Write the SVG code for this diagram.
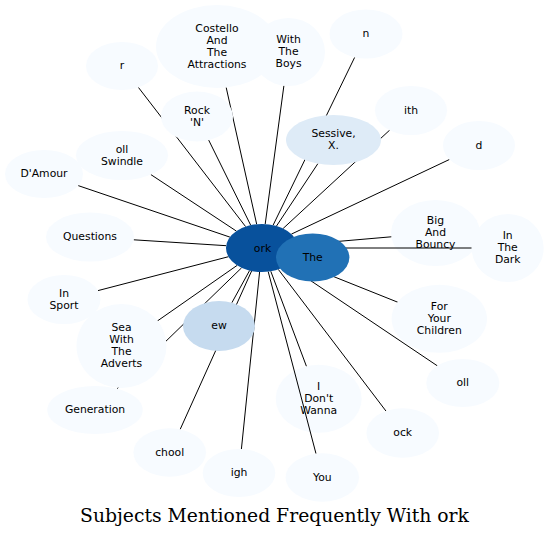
<svg xmlns="http://www.w3.org/2000/svg" width="549" height="537" viewBox="0 0 549 537">
<style>
.bg{fill:#ffffff}
.n ellipse{fill:#f7fbff;stroke:none}
.n text,.t{font-family:"DejaVu Sans","Liberation Sans",sans-serif;font-size:10.8px;text-anchor:middle;fill:#000}
#edges line{stroke:#000;stroke-width:1}
.title{font-family:"DejaVu Serif","Liberation Serif",serif;font-size:18.8px;text-anchor:middle;fill:#000}
</style>
<rect class="bg" x="0" y="0" width="549" height="537"/>

<g id="node-big-and-bouncy" class="n"><ellipse cx="435.5" cy="233" rx="44.5" ry="33"/><text x="435.5" y="224">Big</text><text x="435.5" y="236">And</text><text x="435.5" y="248">Bouncy</text></g>
<g id="node-i-dont-wanna" class="n"><ellipse cx="318.7" cy="398.8" rx="43" ry="34"/><text x="318.7" y="389.8">I</text><text x="318.7" y="401.8">Don't</text><text x="318.7" y="413.8">Wanna</text></g>

<g id="edges">
<line x1="245.6" y1="226.6" x2="138.4" y2="87.4"/>
<line x1="256.7" y1="224.3" x2="226.2" y2="87.5"/>
<line x1="265.2" y1="224.1" x2="283.9" y2="85.7"/>
<line x1="273.1" y1="225.2" x2="354.7" y2="57.3"/>
<line x1="283.1" y1="228.5" x2="389.6" y2="130.2"/>
<line x1="291.4" y1="234.1" x2="449.4" y2="159.5"/>
<line x1="276.5" y1="226.0" x2="317.9" y2="163.6"/>
<line x1="250.7" y1="225.2" x2="208.7" y2="140.1"/>
<line x1="236.4" y1="231.1" x2="150.9" y2="174.6"/>
<line x1="229.9" y1="237.1" x2="78.2" y2="185.6"/>
<line x1="226.2" y1="245.7" x2="133.7" y2="239.8"/>
<line x1="228.5" y1="256.7" x2="98.0" y2="290.6"/>
<line x1="237.1" y1="265.4" x2="157.5" y2="320.9"/>
<line x1="241.6" y1="267.8" x2="117.0" y2="388.7"/>
<line x1="251.6" y1="271.0" x2="180.2" y2="429.3"/>
<line x1="249.6" y1="270.5" x2="231.9" y2="302.7"/>
<line x1="259.6" y1="271.9" x2="241.4" y2="449.1"/>
<line x1="268.2" y1="271.6" x2="316.0" y2="453.7"/>
<line x1="270.8" y1="271.3" x2="306.4" y2="366.2"/>
<line x1="278.3" y1="269.4" x2="386.0" y2="411.1"/>
<line x1="287.4" y1="265.0" x2="437.3" y2="365.8"/>
<line x1="292.9" y1="260.3" x2="397.7" y2="302.2"/>
<line x1="298.0" y1="248.0" x2="471.7" y2="248.0"/>
<line x1="297.7" y1="244.9" x2="391.3" y2="236.8"/>
</g>

<g id="node-r" class="n"><ellipse cx="122" cy="66" rx="36" ry="24"/><text x="122" y="69">r</text></g>
<g id="node-costello" class="n"><ellipse cx="217" cy="46.5" rx="61" ry="41.5"/><text x="217" y="31.5">Costello</text><text x="217" y="43.5">And</text><text x="217" y="55.5">The</text><text x="217" y="67.5">Attractions</text></g>
<g id="node-with-the-boys" class="n"><ellipse cx="288.5" cy="52" rx="36.5" ry="34"/><text x="288.5" y="43">With</text><text x="288.5" y="55">The</text><text x="288.5" y="67">Boys</text></g>
<g id="node-n" class="n"><ellipse cx="366" cy="34" rx="36.5" ry="24.5"/><text x="366" y="37">n</text></g>
<g id="node-ith" class="n"><ellipse cx="411" cy="110.5" rx="36" ry="24.5"/><text x="411" y="113.5">ith</text></g>
<g id="node-d" class="n"><ellipse cx="479" cy="145.5" rx="36" ry="24.5"/><text x="479" y="148.5">d</text></g>
<g id="node-sessive" class="n"><ellipse cx="333.5" cy="140" rx="47.5" ry="25" style="fill:#deebf7"/><text x="333.5" y="137">Sessive,</text><text x="333.5" y="149">X.</text></g>
<g id="node-rock-n" class="n"><ellipse cx="197" cy="116.5" rx="36" ry="25"/><text x="197" y="113.5">Rock</text><text x="197" y="125.5">'N'</text></g>
<g id="node-oll-swindle" class="n"><ellipse cx="122" cy="155.5" rx="46" ry="24.5"/><text x="122" y="152.5">oll</text><text x="122" y="164.5">Swindle</text></g>
<g id="node-damour" class="n"><ellipse cx="44" cy="174" rx="39" ry="24"/><text x="44" y="177">D'Amour</text></g>
<g id="node-questions" class="n"><ellipse cx="90" cy="237" rx="44" ry="24.5"/><text x="90" y="240">Questions</text></g>
<g id="node-in-sport" class="n"><ellipse cx="64" cy="299.5" rx="36.5" ry="24.5"/><text x="64" y="296.5">In</text><text x="64" y="308.5">Sport</text></g>
<g id="node-sea" class="n"><ellipse cx="121.5" cy="346" rx="45" ry="42"/><text x="121.5" y="331">Sea</text><text x="121.5" y="343">With</text><text x="121.5" y="355">The</text><text x="121.5" y="367">Adverts</text></g>
<g id="node-generation" class="n"><ellipse cx="95" cy="410" rx="47.7" ry="24"/><text x="95" y="413">Generation</text></g>
<g id="node-chool" class="n"><ellipse cx="169.7" cy="452.5" rx="36.3" ry="24.2"/><text x="169.7" y="455.5">chool</text></g>
<g id="node-ew" class="n"><ellipse cx="219" cy="326" rx="36" ry="25" style="fill:#c6dbef"/><text x="219" y="329">ew</text></g>
<g id="node-igh" class="n"><ellipse cx="239" cy="473" rx="36.3" ry="24"/><text x="239" y="476">igh</text></g>
<g id="node-you" class="n"><ellipse cx="322.3" cy="477.5" rx="36.7" ry="24.2"/><text x="322.3" y="480.5">You</text></g>
<g id="node-ock" class="n"><ellipse cx="402.7" cy="433" rx="36.3" ry="24.7"/><text x="402.7" y="436">ock</text></g>
<g id="node-oll" class="n"><ellipse cx="462.8" cy="383" rx="36.5" ry="24"/><text x="462.8" y="386">oll</text></g>
<g id="node-for-your-children" class="n"><ellipse cx="439.3" cy="318.8" rx="47.7" ry="34"/><text x="439.3" y="309.8">For</text><text x="439.3" y="321.8">Your</text><text x="439.3" y="333.8">Children</text></g>
<g id="node-in-the-dark" class="n"><ellipse cx="507.7" cy="248" rx="36" ry="34"/><text x="507.7" y="239">In</text><text x="507.7" y="251">The</text><text x="507.7" y="263">Dark</text></g>
<g id="node-ork" class="n"><ellipse cx="262" cy="248" rx="36" ry="24" style="fill:#08519c"/><text x="262.5" y="251.5">ork</text></g>
<g id="node-the" class="n"><ellipse cx="312.7" cy="257.5" rx="36.7" ry="24" style="fill:#2171b5"/><text x="312.7" y="260.5">The</text></g>

<text class="title" x="274.5" y="522">Subjects Mentioned Frequently With ork</text>
</svg>
